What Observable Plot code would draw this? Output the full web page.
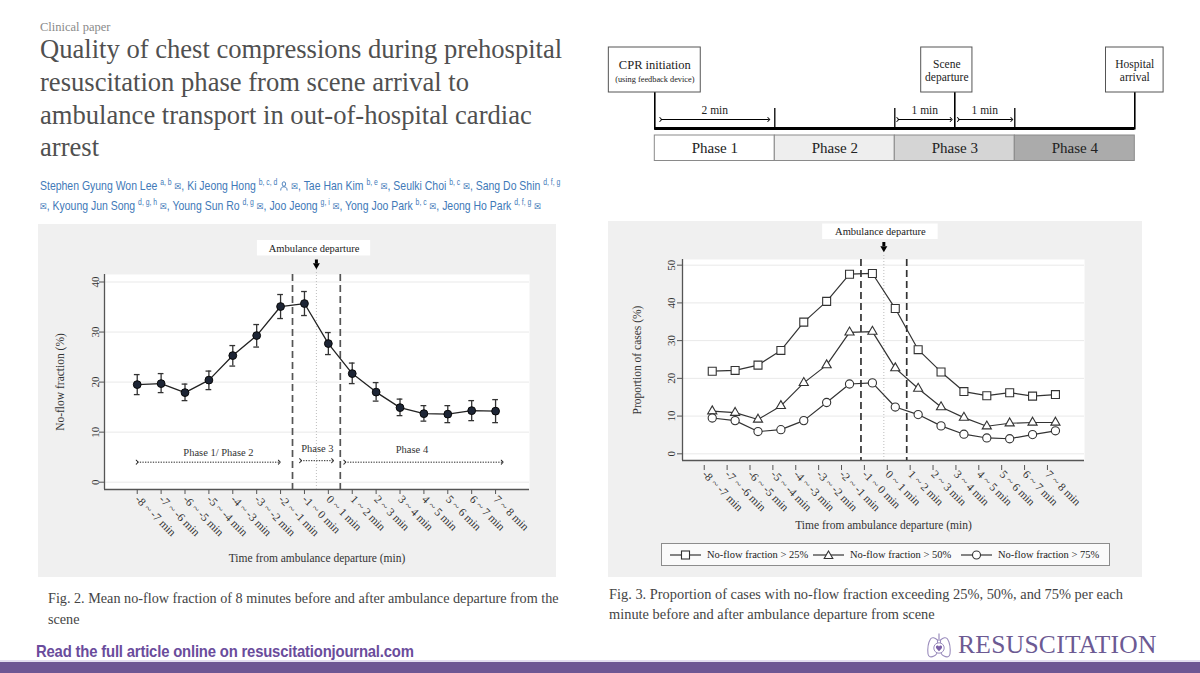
<!DOCTYPE html>
<html>
<head>
<meta charset="utf-8">
<script src="https://cdn.jsdelivr.net/npm/d3@7"></script>
<script src="https://cdn.jsdelivr.net/npm/@observablehq/plot@0.6"></script>
<style>
  html, body { margin: 0; padding: 0; background: #fff; }
  #page { position: relative; width: 1200px; height: 673px; overflow: hidden; background: #fff; }
  .abs { position: absolute; white-space: nowrap; }
  .serif { font-family: 'Liberation Serif', 'Times New Roman', serif; }
  #kicker { left: 40px; top: 19px; font-size: 12.5px; color: #8a8a8a; line-height: 16px; }
  #title { left: 40px; top: 33px; font-size: 26.6px; line-height: 32.8px; color: #505050; }
  #authors { left: 40px; top: 176px; font-family: 'Liberation Sans', Arial, sans-serif; font-size: 13px; line-height: 19px; color: #4179b8; transform: scaleX(0.805); transform-origin: 0 0; }
  #authors sup { font-size: 8.5px; vertical-align: 5px; line-height: 0; }
  .env { font-family: 'DejaVu Sans', sans-serif; font-size: 10px; }
  .panel { background: #f0f0f0; }
  #cap2 { left: 48px; top: 587.5px; font-size: 14.2px; line-height: 21px; color: #444; }
  #cap3 { left: 609px; top: 584px; font-size: 14.4px; line-height: 20px; color: #444; }
  #readmore { left: 36px; top: 641px; font-family: 'Liberation Sans', Arial, sans-serif; font-weight: bold; font-size: 16.5px; line-height: 20px; color: #6a4c9c; letter-spacing: -0.2px; transform: scaleX(0.9); transform-origin: 0 0; }
  #brand { left: 958px; top: 632px; font-size: 25.5px; line-height: 26px; color: #6c5a93; letter-spacing: 0.3px; }
  #bar { left: 0; top: 662px; width: 1200px; height: 11px; background: #6e5794; }
  #barline { left: 0; top: 660px; width: 1200px; height: 2px; background: #e3def0; }
  #legend { left: 661px; top: 543px; width: 449px; height: 23px; border: 1px solid #8c8c8c; background: #fafafa; box-sizing: border-box; font-family: 'Liberation Serif', serif; font-size: 10.5px; color: #222; }
  #legend .item { position: absolute; top: 0; height: 21px; display: flex; align-items: center; white-space: nowrap; }
  #legend svg { margin-right: 6px; }
</style>
</head>
<body>
<div id="page">
  <div id="kicker" class="abs serif">Clinical paper</div>
  <div id="title" class="abs serif">Quality of chest compressions during prehospital<br>resuscitation phase from scene arrival to<br>ambulance transport in out-of-hospital cardiac<br>arrest</div>
  <div id="authors" class="abs">Stephen Gyung Won Lee <sup>a, b</sup> <span class="env">✉</span>, Ki Jeong Hong <sup>b, c, d</sup> <svg width="10" height="10" viewBox="0 0 10 10" style="vertical-align:-1px"><circle cx="5" cy="3" r="2.2" fill="none" stroke="#4179b8" stroke-width="1"/><path d="M1 9.5 C1 6.5 3 5.8 5 5.8 C7 5.8 9 6.5 9 9.5" fill="none" stroke="#4179b8" stroke-width="1"/></svg> <span class="env">✉</span>, Tae Han Kim <sup>b, e</sup> <span class="env">✉</span>, Seulki Choi <sup>b, c</sup> <span class="env">✉</span>, Sang Do Shin <sup>d, f, g</sup><br><span class="env">✉</span>, Kyoung Jun Song <sup>d, g, h</sup> <span class="env">✉</span>, Young Sun Ro <sup>d, g</sup> <span class="env">✉</span>, Joo Jeong <sup>g, i</sup> <span class="env">✉</span>, Yong Joo Park <sup>b, c</sup> <span class="env">✉</span>, Jeong Ho Park <sup>d, f, g</sup> <span class="env">✉</span></div>

  <div id="timeline" class="abs" style="left:590px;top:40px;"></div>

  <div class="abs panel" style="left:38px;top:224px;width:518px;height:353px;"></div>
  <div class="abs panel" style="left:608px;top:221px;width:534px;height:356px;"></div>
  <div id="leftChart" class="abs" style="left:38px;top:224px;"></div>
  <div id="rightChart" class="abs" style="left:608px;top:224px;"></div>

  <div id="legend" class="abs">
    <div class="item" style="left:8px;"><svg width="31" height="10"><line x1="0" y1="5" x2="31" y2="5" stroke="#333" stroke-width="1.2"/><rect x="11.5" y="1" width="8" height="8" fill="#fff" stroke="#333" stroke-width="1.1"/></svg>No-flow fraction &gt; 25%</div>
    <div class="item" style="left:151px;"><svg width="31" height="10"><line x1="0" y1="5" x2="31" y2="5" stroke="#333" stroke-width="1.2"/><path d="M15.5 1 L19.8 8.5 L11.2 8.5 Z" fill="#fff" stroke="#333" stroke-width="1.1"/></svg>No-flow fraction &gt; 50%</div>
    <div class="item" style="left:299px;"><svg width="31" height="10"><line x1="0" y1="5" x2="31" y2="5" stroke="#333" stroke-width="1.2"/><circle cx="15.5" cy="5" r="4" fill="#fff" stroke="#333" stroke-width="1.1"/></svg>No-flow fraction &gt; 75%</div>
  </div>

  <div id="cap2" class="abs serif">Fig. 2. Mean no-flow fraction of 8 minutes before and after ambulance departure from the<br>scene</div>
  <div id="cap3" class="abs serif">Fig. 3. Proportion of cases with no-flow fraction exceeding 25%, 50%, and 75% per each<br>minute before and after ambulance departure from scene</div>

  <div id="readmore" class="abs">Read the full article online on resuscitationjournal.com</div>
  <svg class="abs" style="left:926px;top:632px;" width="26" height="27" viewBox="0 0 26 27">
    <path d="M13 1.5 V9" stroke="#9a8cbc" stroke-width="1.2" fill="none"/>
    <path d="M11.5 8 C9 6 6 4.5 4.5 7 C2 11 1.5 17 2 22 C2.5 25 5 25.5 8 24 C10.5 23 11.5 21 11.5 18 Z" fill="none" stroke="#9a8cbc" stroke-width="1.1"/>
    <path d="M14.5 8 C17 6 20 4.5 21.5 7 C24 11 24.5 17 24 22 C23.5 25 21 25.5 18 24 C15.5 23 14.5 21 14.5 18 Z" fill="none" stroke="#9a8cbc" stroke-width="1.1"/>
    <circle cx="13" cy="16" r="5.2" fill="#fff" stroke="#9a8cbc" stroke-width="1"/>
    <path d="M13 19.2 L10.4 16.4 C9.4 15.3 10 13.6 11.4 13.6 C12.2 13.6 12.7 14.1 13 14.6 C13.3 14.1 13.8 13.6 14.6 13.6 C16 13.6 16.6 15.3 15.6 16.4 Z" fill="#7a5ea6"/>
  </svg>
  <div id="brand" class="abs serif">RESUSCITATION</div>
  <div id="barline" class="abs"></div>
  <div id="bar" class="abs"></div>
</div>

<script>
// ---------------- DATA ----------------
const minuteStarts = [-8, -7, -6, -5, -4, -3, -2, -1, 0, 1, 2, 3, 4, 5, 6, 7];
const minuteLabels = ["-8 ~ -7 min", "-7 ~ -6 min", "-6 ~ -5 min", "-5 ~ -4 min", "-4 ~ -3 min", "-3 ~ -2 min", "-2 ~ -1 min", "-1 ~ 0 min",
                      "0 ~ 1 min", "1 ~ 2 min", "2 ~ 3 min", "3 ~ 4 min", "4 ~ 5 min", "5 ~ 6 min", "6 ~ 7 min", "7 ~ 8 min"];

// Fig. 2: mean no-flow fraction (%) with 95% CI
const meanNoFlow = [19.5, 19.7, 17.9, 20.4, 25.3, 29.3, 35.1, 35.7, 27.7, 21.7, 18.0, 14.9, 13.7, 13.6, 14.3, 14.2];
const ciLow      = [17.5, 17.9, 16.3, 18.5, 23.2, 27.0, 32.7, 33.3, 25.5, 19.7, 16.2, 13.3, 12.2, 11.9, 12.3, 11.9];
const ciHigh     = [21.5, 21.7, 19.6, 22.2, 27.3, 31.5, 37.5, 38.1, 29.9, 23.8, 19.9, 16.6, 15.3, 15.3, 16.3, 16.5];
const leftYTicks = [0, 10, 20, 30, 40];

// Fig. 3: proportion of cases (%) exceeding thresholds
const over25 = [21.9, 22.1, 23.5, 27.4, 34.9, 40.4, 47.6, 47.8, 38.5, 27.6, 21.7, 16.5, 15.4, 16.2, 15.3, 15.7];
const over50 = [11.3, 10.9, 9.1, 12.7, 18.8, 23.5, 32.2, 32.4, 22.7, 17.3, 12.4, 9.6, 7.3, 8.1, 8.3, 8.3];
const over75 = [9.5, 8.8, 5.9, 6.4, 8.8, 13.6, 18.5, 18.8, 12.4, 10.4, 7.4, 5.2, 4.2, 4.0, 5.1, 6.1];
const seriesNames = ["No-flow fraction > 25%", "No-flow fraction > 50%", "No-flow fraction > 75%"];
const rightYTicks = [0, 10, 20, 30, 40, 50];

// Phase boundaries relative to ambulance departure (minute index)
const phaseBoundaries = [-1.5, 0.5];
const departureAt = -0.5;
const phaseSpanLabels = ["Phase 1/ Phase 2", "Phase 3", "Phase 4"];
const phaseSpanFrom = [-8, -1.16, 0.69];
const phaseSpanTo = [-2.05, 0.18, 7.28];
const phaseSpanCenter = [-4.6, -0.46, 3.5];
const phaseSpanLabelY = [6.0, 6.8, 6.5];
const phaseSpanArrowY = [4.0, 4.3, 4.0];

// Timeline diagram
const phaseNames = ["Phase 1", "Phase 2", "Phase 3", "Phase 4"];
const phaseFills = ["#ffffff", "#eeeeee", "#d5d5d5", "#ababab"];
const eventTitles = ["CPR initiation", "Scene\ndeparture", "Hospital\narrival"];
const eventAt = [0, 2.5, 4];
const eventBoxFrom = [-0.383, 2.22, 3.76];
const eventBoxTo = [0.383, 2.647, 4.24];
const intervalLabels = ["2 min", "1 min", "1 min"];
const intervalFrom = [0.05, 2.025, 2.53];
const intervalTo = [0.95, 2.47, 2.975];
const intervalCenter = [0.5, 2.25, 2.75];

// ---------------- CHARTS ----------------
const serif = "'Liberation Serif', 'Times New Roman', serif";
const labelOf = new Map(minuteStarts.map((t, i) => [t, minuteLabels[i]]));

// Fig. 2
const leftRows = minuteStarts.map((t, i) => ({t, mean: meanNoFlow[i], lo: ciLow[i], hi: ciHigh[i]}));
const spans = phaseSpanLabels.map((label, i) => ({label, from: phaseSpanFrom[i], to: phaseSpanTo[i], at: phaseSpanCenter[i], ly: phaseSpanLabelY[i], ay: phaseSpanArrowY[i]}));
const LX = [-9.37, 8.42], LY = [-1.46, 41.5];
const leftChart = Plot.plot({
  width: 520, height: 350,
  marginLeft: 66, marginRight: 29, marginTop: 50, marginBottom: 85,
  style: {fontFamily: serif, fontSize: "11px", color: "#333", background: "transparent", overflow: "visible"},
  x: {domain: LX},
  y: {domain: LY},
  marks: [
    Plot.frame({fill: "white", stroke: null}),
    Plot.ruleY(leftYTicks, {stroke: "#e9e9e9", strokeWidth: 1}),
    Plot.ruleX([LX[0]], {stroke: "#555", strokeWidth: 1.3}),
    Plot.ruleY([LY[0]], {stroke: "#555", strokeWidth: 1.3}),
    Plot.axisY({ticks: leftYTicks, tickRotate: -90, tickSize: 5, tickPadding: 1, label: null, fontSize: 11, stroke: "#555"}),
    Plot.axisX({ticks: minuteStarts, tickFormat: t => labelOf.get(t), tickRotate: 45, tickSize: 5, tickPadding: 3, label: null, fontSize: 11.5, stroke: "#555"}),
    Plot.ruleX(phaseBoundaries, {stroke: "#555", strokeWidth: 1.7, strokeDasharray: "7,4"}),
    Plot.ruleX([departureAt], {y1: LY[0], y2: 44, stroke: "#bdbdbd", strokeWidth: 1, strokeDasharray: "1,2"}),
    Plot.link(spans, {x1: "from", x2: "to", y1: "ay", y2: "ay", stroke: "#222", strokeWidth: 1, strokeDasharray: "1.3,1.3", markerStart: "arrow", markerEnd: "arrow"}),
    Plot.text(spans, {x: "at", y: "ly", text: "label", fontSize: 10.5, fill: "#333"}),
    Plot.ruleX(leftRows, {x: "t", y1: "lo", y2: "hi", stroke: "#333", strokeWidth: 1.3}),
    Plot.ruleY(leftRows, {y: "hi", x1: d => d.t - 0.12, x2: d => d.t + 0.12, stroke: "#333", strokeWidth: 1.3}),
    Plot.ruleY(leftRows, {y: "lo", x1: d => d.t - 0.12, x2: d => d.t + 0.12, stroke: "#333", strokeWidth: 1.3}),
    Plot.line(leftRows, {x: "t", y: "mean", stroke: "#222", strokeWidth: 1.3}),
    Plot.dot(leftRows, {x: "t", y: "mean", r: 3.9, fill: "#1d2535", stroke: "#080808", strokeWidth: 1}),
    // annotation: ambulance departure
    Plot.rect([0], {x1: () => -0.6 - 2.37, x2: () => -0.6 + 2.37, y1: () => 45.2, y2: () => 48.3, fill: "white"}),
    Plot.text(["Ambulance departure"], {x: () => -0.6, y: () => 46.75, text: d => d, fontSize: 10.5, fill: "#222"}),
    Plot.ruleX([departureAt], {y1: 44.4, y2: 43.6, stroke: "#000", strokeWidth: 3}),
    Plot.dot([departureAt], {x: d => d, y: () => 43.35, symbol: "triangle", rotate: 180, r: 2.6, fill: "#000"}),
    // axis titles
    Plot.text(["No-flow fraction (%)"], {frameAnchor: "left", textAnchor: "middle", dx: -44, rotate: -90, text: d => d, fontSize: 11.5, fill: "#333"}),
    Plot.text(["Time from ambulance departure (min)"], {frameAnchor: "bottom", dy: 72, text: d => d, fontSize: 11.5, fill: "#333"})
  ]
});
document.getElementById("leftChart").append(leftChart);

// Fig. 3
const rightRows = [over25, over50, over75].flatMap((vals, s) => minuteStarts.map((t, i) => ({t, v: vals[i], key: seriesNames[s]})));
const RX = [-9.30, 8.27], RY = [-1.77, 51.5];
const rightChart = Plot.plot({
  width: 534, height: 314,
  marginLeft: 74, marginRight: 58, marginTop: 35, marginBottom: 78,
  style: {fontFamily: serif, fontSize: "11px", color: "#333", background: "transparent", overflow: "visible"},
  x: {domain: RX},
  y: {domain: RY},
  marks: [
    Plot.frame({fill: "white", stroke: null}),
    Plot.ruleY(rightYTicks, {stroke: "#e9e9e9", strokeWidth: 1}),
    Plot.ruleX([RX[0]], {stroke: "#555", strokeWidth: 1.3}),
    Plot.ruleY([RY[0]], {stroke: "#555", strokeWidth: 1.3}),
    Plot.axisY({ticks: rightYTicks, tickRotate: -90, tickSize: 5, tickPadding: 3, label: null, fontSize: 11, stroke: "#555"}),
    Plot.axisX({ticks: minuteStarts, tickFormat: t => labelOf.get(t), tickRotate: 45, tickSize: 5, tickPadding: 2, label: null, fontSize: 11.5, stroke: "#555", dx: -8, dy: 5}),
    Plot.ruleX(phaseBoundaries, {stroke: "#333", strokeWidth: 1.7, strokeDasharray: "7,4"}),
    Plot.ruleX([departureAt], {y1: RY[0], y2: 53, stroke: "#bdbdbd", strokeWidth: 1, strokeDasharray: "1,2"}),
    Plot.line(rightRows, {x: "t", y: "v", z: "key", stroke: "#333", strokeWidth: 1.2}),
    Plot.dot(rightRows.filter(d => d.key === seriesNames[0]), {x: "t", y: "v", symbol: "square", r: 4.5, fill: "white", stroke: "#333", strokeWidth: 1.1}),
    Plot.dot(rightRows.filter(d => d.key === seriesNames[1]), {x: "t", y: "v", symbol: "triangle", r: 3.4, fill: "white", stroke: "#333", strokeWidth: 1.1}),
    Plot.dot(rightRows.filter(d => d.key === seriesNames[2]), {x: "t", y: "v", symbol: "circle", r: 4.1, fill: "white", stroke: "#333", strokeWidth: 1.1}),
    Plot.rect([0], {x1: () => -0.65 - 2.525, x2: () => -0.65 + 2.525, y1: () => 56.8, y2: () => 60.9, fill: "white"}),
    Plot.text(["Ambulance departure"], {x: () => -0.65, y: () => 58.85, text: d => d, fontSize: 10.5, fill: "#222"}),
    Plot.ruleX([departureAt], {y1: 56.0, y2: 54.9, stroke: "#000", strokeWidth: 3}),
    Plot.dot([departureAt], {x: d => d, y: () => 54.5, symbol: "triangle", rotate: 180, r: 2.6, fill: "#000"}),
    Plot.text(["Proportion of cases (%)"], {frameAnchor: "left", textAnchor: "middle", dx: -45, rotate: -90, text: d => d, fontSize: 11.5, fill: "#333"}),
    Plot.text(["Time from ambulance departure (min)"], {frameAnchor: "bottom", dy: 68, text: d => d, fontSize: 11.5, fill: "#333"})
  ]
});
document.getElementById("rightChart").append(rightChart);

// Timeline diagram (y in layout units from top of diagram)
const phases = phaseNames.map((name, i) => ({name, i, fill: phaseFills[i]}));
const events = eventTitles.map((title, i) => ({title, at: eventAt[i], x1: eventBoxFrom[i], x2: eventBoxTo[i], mid: (eventBoxFrom[i] + eventBoxTo[i]) / 2}));
const intervals = intervalLabels.map((label, i) => ({label, from: intervalFrom[i], to: intervalTo[i], at: intervalCenter[i]}));
const timeline = Plot.plot({
  width: 600, height: 130,
  marginLeft: 64.3, marginRight: 55.7, marginTop: 0, marginBottom: 0,
  style: {fontFamily: serif, color: "#222", background: "transparent", overflow: "visible"},
  x: {domain: [0, 4], axis: null},
  y: {domain: [0, 130], reverse: true, axis: null},
  marks: [
    Plot.rect(phases, {x1: "i", x2: d => d.i + 1, y1: () => 95, y2: () => 120.5, fill: "fill", stroke: "#8a8a8a", strokeWidth: 1}),
    Plot.text(phases, {x: d => d.i + 0.5, y: () => 108, text: "name", fontSize: 15, fill: "#222"}),
    Plot.ruleY([88], {x1: 0, x2: 4, stroke: "#000", strokeWidth: 3.2}),
    Plot.ruleX(events, {x: "at", y1: () => 52, y2: () => 89.5, stroke: "#000", strokeWidth: 1.6}),
    Plot.ruleX([1, 2, 3], {y1: 68, y2: 88, stroke: "#000", strokeWidth: 1.3}),
    Plot.rect(events, {x1: "x1", x2: "x2", y1: () => 7, y2: () => 52, fill: "white", stroke: "#555", strokeWidth: 1}),
    Plot.text(events.slice(0, 1), {x: "mid", y: () => 24, text: "title", fontSize: 12.5, fill: "#222"}),
    Plot.text(["(using feedback device)"], {x: () => 0, y: () => 38.5, text: d => d, fontSize: 8.3, fill: "#222"}),
    Plot.text(events.slice(1), {x: "mid", y: () => 30, text: "title", fontSize: 11.5, lineHeight: 1.15, fill: "#222"}),
    Plot.link(intervals, {x1: "from", x2: "to", y1: () => 79, y2: () => 79, stroke: "#000", strokeWidth: 1, markerStart: "arrow", markerEnd: "arrow"}),
    Plot.text(intervals, {x: "at", y: () => 70, text: "label", fontSize: 11.5, fill: "#222"})
  ]
});
document.getElementById("timeline").append(timeline);
</script>
</body>
</html>
